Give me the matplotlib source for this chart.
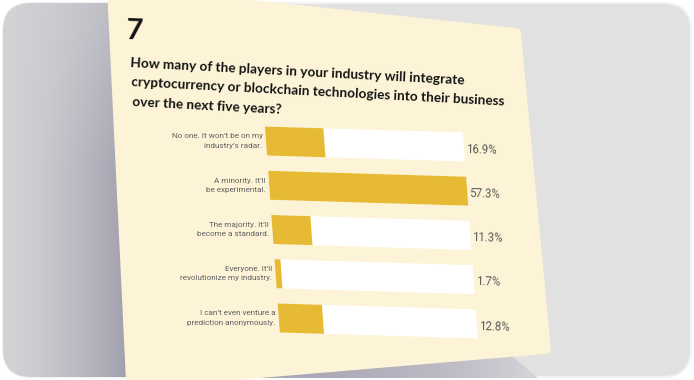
import numpy as np
import matplotlib.pyplot as plt
from matplotlib.patches import FancyBboxPatch, Polygon
from matplotlib.transforms import Affine2D
from matplotlib.colors import to_rgb

# ---- data ----
question_no = "7"
title_lines = ["How many of the players in your industry will integrate",
               "cryptocurrency or blockchain technologies into their business",
               "over the next five years?"]
answers = ["No one. It won\u2019t be on my\nindustry\u2019s radar.",
           "A minority. It\u2019ll\nbe experimental.",
           "The majority. It\u2019ll\nbecome a standard.",
           "Everyone. It\u2019ll\nrevolutionize my industry.",
           "I can\u2019t even venture a\nprediction anonymously."]
shares = [16.9, 57.3, 11.3, 1.7, 12.8]

W, H = 694, 380
cream = "#fdf4d7"
gold = "#e6bb33"
narrow = ["Liberation Sans Narrow", "Roboto", "DejaVu Sans"]

fig = plt.figure(figsize=(W / 100, H / 100), dpi=100)
fig.patch.set_facecolor("white")

# decoration axes in pixel units (y pointing down)
deco = fig.add_axes([0, 0, 1, 1])
deco.set_xlim(0, W)
deco.set_ylim(H, 0)
deco.axis("off")

panel = FancyBboxPatch((3, 3), 688, 374, boxstyle="round,pad=0,rounding_size=28",
                       fc="#e1e1e1", ec="#f2f2f2", lw=1.5, zorder=1)
deco.add_patch(panel)

# shadow on the left side of the card
xs = np.linspace(0, 1, 140)
ys = np.linspace(0, 1, 100)
gx, gy = np.meshgrid(xs, ys)
t = (gx ** 1.4) * (0.5 + 0.5 * np.clip(gy * 2.2, 0, 1))
light, dark = np.array(to_rgb("#d3d3d6")), np.array(to_rgb("#9a98a8"))
img = light + (dark - light) * t[..., None]
im = deco.imshow(img, extent=(3, 140, 377, 3), origin="upper", aspect="auto", zorder=2)
im.set_clip_path(panel)

# shadow under the card bottom
shade = Polygon([(110, 380), (512, 356), (538, 378), (110, 378)], closed=True,
                fc="none", ec="none", zorder=2)
deco.add_patch(shade)
sx = np.linspace(0, 1, 200)[None, :]
c0, c1 = np.array(to_rgb("#a6a4b3")), np.array(to_rgb("#d6d6da"))
simg = c0 + (c1 - c0) * (sx ** 3)[..., None]
sim = deco.imshow(np.repeat(simg, 4, axis=0), extent=(110, 540, 378, 350), origin="upper",
                  aspect="auto", zorder=2)
sim.set_clip_path(shade.get_path(), shade.get_transform())

# the card
card = Polygon([(112, -10), (516, 33), (546, 349), (131, 384)], closed=True,
               fc=cream, ec=cream, lw=7, joinstyle="round", zorder=3)
deco.add_patch(card)

deco.text(126, 39, question_no, fontsize=21, fontweight="bold", family="Lato",
          color="#111111", rotation=-2, rotation_mode="anchor", zorder=5)
for i, line in enumerate(title_lines):
    deco.text(130 + i, 67 + 19.5 * i, line, fontsize=9.8, fontweight="bold", family="Lato",
              color="#151515", rotation=-3, rotation_mode="anchor",
              ha="left", va="baseline", zorder=5)

# ---- bars ----
ax = fig.add_axes([266 / W, (H - 340.1) / H, 198 / W, 221.2 / H])
ax.set_xlim(0, max(shares))
ax.set_ylim(len(shares) - 0.5, -0.5)
ax.axis("off")
ax.patch.set_alpha(0)

a, b = 0.072, 0.03
X0, Y0 = 266, H - 141
skew = Affine2D(np.array([[1, -a, a * Y0], [-b, 1, b * X0], [0, 0, 1]]))
tr = ax.transData + skew

pos = np.arange(len(shares))
track = ax.barh(pos, [max(shares)] * len(shares), height=0.655, color="white", zorder=4)
fill = ax.barh(pos, shares, height=0.655, color=gold, zorder=5)
for p in list(track) + list(fill):
    p.set_transform(tr)
    p.set_clip_on(False)

for i, (lab, v) in enumerate(zip(answers, shares)):
    ax.text(-1.0, i, lab, transform=tr, ha="right", va="center", fontsize=5.9,
            family=narrow, color="#606060", linespacing=1.65, clip_on=False, zorder=6)
    ax.text(max(shares) + 0.6, i + 0.05, f"{v}%", transform=tr, ha="left", va="center",
            fontsize=8.3, family=narrow, color="#5c5c5c", rotation=-1.5,
            rotation_mode="anchor", clip_on=False, zorder=6)

fig.savefig("out.png", dpi=100)
